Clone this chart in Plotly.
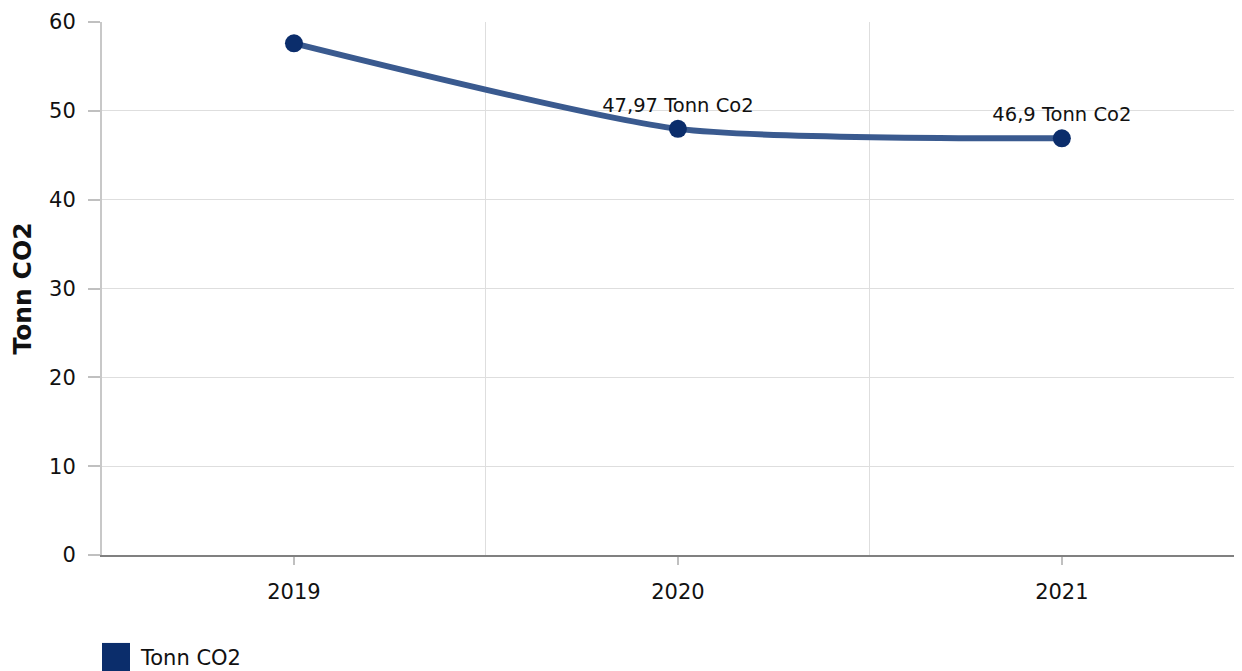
import plotly.graph_objects as go

# data
years = [2019, 2020, 2021]
tonn_co2 = [57.6, 47.97, 46.9]
point_labels = ["", "47,97 Tonn Co2", "46,9 Tonn Co2"]
y_ticks = [0, 10, 20, 30, 40, 50, 60]

LINE_COLOR = "#3a5a8f"
MARKER_COLOR = "#0b2d6b"
FONT = "DejaVu Sans, Verdana, sans-serif"

fig = go.Figure()
fig.add_trace(
    go.Scatter(
        x=years,
        y=tonn_co2,
        mode="lines+markers+text",
        text=point_labels,
        textposition="top center",
        textfont=dict(size=19.5, color="#111111", family=FONT),
        line=dict(color=LINE_COLOR, width=6, shape="spline", smoothing=0.6),
        marker=dict(color=MARKER_COLOR, size=18),
        name="Tonn CO2",
        showlegend=False,
        cliponaxis=False,
    )
)

# the page body has an 8px margin, so the figure is shifted by 8px
fig.update_layout(
    width=1242,
    height=663,
    margin=dict(l=94, r=0, t=14, b=116),
    paper_bgcolor="white",
    plot_bgcolor="white",
    font=dict(family=FONT, size=21, color="#111111"),
    showlegend=False,
)

fig.update_xaxes(
    range=[2018.5, 2021.49],
    tickmode="array",
    tickvals=years,
    ticktext=[str(y) for y in years],
    ticks="outside",
    ticklen=8,
    tickcolor="#c0c0c0",
    tickwidth=2,
    ticklabelstandoff=9,
    showgrid=False,
    showline=True,
    linecolor="#808080",
    linewidth=2,
    zeroline=False,
    minor=dict(tick0=2018.5, dtick=1, showgrid=True, gridcolor="#dedede", gridwidth=1, ticks=""),
    tickfont=dict(size=21),
)

fig.update_yaxes(
    range=[0, 60],
    tickmode="array",
    tickvals=y_ticks,
    ticks="outside",
    ticklen=12,
    tickcolor="#c0c0c0",
    tickwidth=2,
    ticklabelstandoff=8,
    showgrid=True,
    gridcolor="#dedede",
    gridwidth=1,
    showline=True,
    linecolor="#c8c8c8",
    linewidth=2,
    zeroline=False,
    tickfont=dict(size=21),
    title=dict(text="<b>Tonn CO2</b>", font=dict(size=25), standoff=14),
)

# legend drawn as a swatch + label below the plot
fig.add_shape(
    type="rect", xref="paper", yref="paper",
    x0=0, x1=28 / 1148, y0=-0.165, y1=-0.23,
    fillcolor=MARKER_COLOR, line=dict(width=0),
)
fig.add_annotation(
    xref="paper", yref="paper", x=36 / 1148, y=-0.193,
    text="Tonn CO2", showarrow=False, xanchor="left", yanchor="middle",
    font=dict(size=21),
)

fig.write_html("out.html")
